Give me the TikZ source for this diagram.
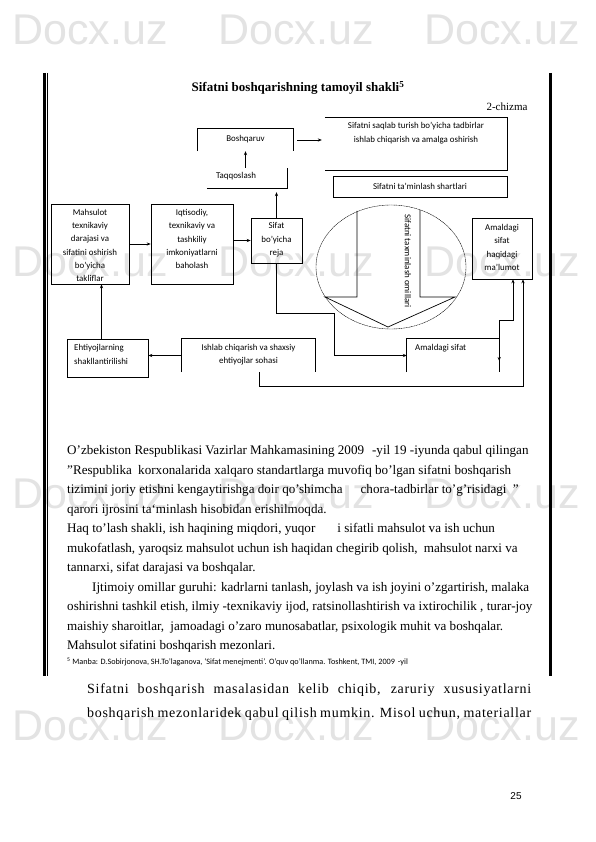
\documentclass[tikz,border=0pt]{standalone}
\usepackage{fontspec}
\setmainfont{Liberation Serif}
\newfontfamily\diafont{Carlito}
\newfontfamily\numfont{Liberation Sans}
\usetikzlibrary{arrows.meta,calc,shapes.geometric}

\begin{document}
\begin{tikzpicture}[x=1pt,y=-1pt,>={Stealth[length=4pt,width=3.2pt]},
  frame/.style={draw,line width=0.6pt,inner sep=0pt},
  bare/.style={inner sep=0pt},
  lbl/.style={font=\diafont\fontsize{8.9}{13.3}\selectfont,align=center,inner sep=0pt},
  wire/.style={line width=0.7pt},
  body/.style={font=\fontsize{13.1}{19.5}\selectfont,align=left,inner sep=0pt,anchor=north west},
  wmark/.style={font=\numfont\fontsize{43}{43}\selectfont,text=black!11,inner sep=0pt,anchor=west}]

  \useasboundingbox (0,0) rectangle (595,842);
  \fill[white] (0,0) rectangle (595,842);

  % watermark
  \foreach \r in {0,...,3}
    \foreach \c in {0,1,2}
      \node[wmark] (wm\r\c) at (12+206*\c,30+232*\r) {Docx.uz};

  % page frame
  \draw[line width=2.2pt] (44.5,73) -- (44.5,676);
  \draw[line width=1.2pt] (47.6,73) -- (47.6,676);
  \draw[line width=3pt] (550.5,73) -- (550.5,676);

  \node[font=\bfseries\fontsize{13}{14}\selectfont] (title) at (298,88)
    {Sifatni boshqarishning tamoyil shakli\textsuperscript{5}};
  \node[anchor=east,font=\fontsize{11}{12}\selectfont] (chizma) at (531,107) {2-chizma};

  % boxes
  \node[bare,minimum width=95pt,minimum height=22pt] (bosh) at (245.5,140) {};
  \node[bare,minimum width=182pt,minimum height=52pt] (saqlab) at (416,144) {};
  \node[bare,minimum width=80pt,minimum height=20pt] (taq) at (247,178) {};
  \node[frame,minimum width=174pt,minimum height=21pt] (shart) at (420,186.5) {};
  \node[frame,minimum width=78pt,minimum height=80pt] (mahs) at (90,244) {};
  \node[frame,minimum width=82pt,minimum height=80pt] (iqt) at (192,244) {};
  \node[frame,minimum width=51pt,minimum height=45pt] (sifat) at (276.5,240.5) {};
  \node[frame,minimum width=60pt,minimum height=61pt] (info) at (502,248.5) {};
  \node[frame,minimum width=81pt,minimum height=38pt] (ehti) at (107.5,358) {};
  \node[bare,minimum width=133pt,minimum height=33pt] (ishlab) at (248.5,355.5) {};
  \node[bare,minimum width=92pt,minimum height=33pt] (amal) at (453,355.5) {};

  \draw[wire] (bosh.south west) -- (bosh.north west) -- (bosh.north east) -- (bosh.south east);
  \draw[wire] (saqlab.north west) -- (saqlab.north east) -- (saqlab.south east) -- (saqlab.south west);
  \draw[wire] (taq.south west) -- (taq.south east) -- (taq.north east);
  \draw[wire] (ishlab.south west) -- (ishlab.north west) -- (ishlab.north east) -- (ishlab.south east);
  \draw[wire] (amal.south west) -- (amal.north west) -- (amal.north east) -- (amal.south east);

  % box texts
  \node[lbl] (boshT) at (245.5,139) {Boshqaruv};
  \node[lbl] (saqlabT) at (416,133) {Sifatni saqlab turish bo’yicha tadbirlar\\ishlab chiqarish va amalga oshirish};
  \node[lbl] (taqT) at (236,176) {Taqqoslash};
  \node[lbl] (shartT) at (420,186) {Sifatni ta’minlash shartlari};
  \node[lbl] (mahsT) at (90,245.5) {Mahsulot\\texnikaviy\\darajasi va\\sifatini oshirish\\bo’yicha\\takliflar};
  \node[lbl] (iqtT) at (192,239) {Iqtisodiy,\\texnikaviy va\\tashkiliy\\imkoniyatlarni\\baholash};
  \node[lbl] (sifatT) at (276.5,240) {Sifat\\bo’yicha\\reja};
  \node[lbl] (infoT) at (502,247.5) {Amaldagi\\sifat\\haqidagi\\ma’lumot};
  \node[lbl,align=left,anchor=west] (ehtiT) at (74,354.5) {Ehtiyojlarning\\shakllantirilishi};
  \node[lbl] (ishlabT) at (248.5,354.5) {Ishlab chiqarish va shaxsiy\\ehtiyojlar sohasi};
  \node[lbl,anchor=west] (amalT) at (415,348) {Amaldagi sifat};

  % factors
  \node[draw,ellipse,minimum width=150pt,minimum height=124pt,inner sep=0pt,
    line width=0.4pt,dash pattern=on 1.2pt off 0.5pt] (omil) at (391,267) {};
  \draw[wire] (357,211) -- (357,297) -- (325,297) -- (388,327) -- (455,297) -- (420,297) -- (420,210);
  \node[lbl,rotate=-90] (omilT) at (408,261) {Sifatni taxminlash omillari};

  % connectors
  \coordinate (k1) at (334,313);
  \coordinate (k2) at (513,320);
  \coordinate (k3) at (523,386);
  \draw[wire,->] ([xshift=4pt]bosh.east) -- ([xshift=-3pt]bosh.east -| saqlab.west);
  \draw[wire,->] (bosh.south |- taq.north) -- (bosh.south);
  \draw[wire,->] (sifat.north) -- ([yshift=-4pt]sifat.north |- taq.south);
  \draw[wire,->] (mahs.east) -- (iqt.west);
  \draw[wire,->] (iqt.east |- sifat.west) -- (sifat.west);
  \draw[wire,->] (sifat.south) |- (k1) |- (amal.west);
  \draw[wire,->] (ishlab.west) -- (ishlab.west -| ehti.east);
  \draw[wire,->] ([xshift=-6pt]ehti.north) -- ([xshift=-6pt]ehti.north |- mahs.south);
  \draw[wire,->] ([xshift=10.5pt]ishlab.south) |- (k3) -- (k3 |- info.south);
  \draw[wire,<->] ([yshift=-5.5pt]amal.east) |- (k2) -- (k2 |- info.south);

  % text below the scheme
  \node[body] (matn) at (67,445.5) {O’zbekiston Respublikasi Vazirlar Mahkamasining 2009\hspace{8pt}-yil 19 -iyunda qabul qilingan\\
    ”Respublika\hspace{3pt} korxonalarida xalqaro standartlarga muvofiq bo’lgan sifatni boshqarish\\
    tizimini joriy etishni kengaytirishga doir qo’shimcha\hspace{18pt}chora-tadbirlar to’g’risidagi\hspace{3pt} ”\\
    qarori ijrosini ta‘minlash hisobidan erishilmoqda.\\
    Haq to’lash shakli, ish haqining miqdori, yuqor\hspace{22pt}i sifatli mahsulot va ish uchun\\
    mukofatlash, yaroqsiz mahsulot uchun ish haqidan chegirib qolish,\hspace{3pt} mahsulot narxi va\\
    tannarxi, sifat darajasi va boshqalar.\\
    \hspace*{25pt}Ijtimoiy omillar guruhi: kadrlarni tanlash, joylash va ish joyini o’zgartirish, malaka\\
    oshirishni tashkil etish, ilmiy -texnikaviy ijod, ratsinollashtirish va ixtirochilik , turar-joy\\
    maishiy sharoitlar,\hspace{3pt} jamoadagi o’zaro munosabatlar, psixologik muhit va boshqalar.\\
    Mahsulot sifatini boshqarish mezonlari.};

  \node[anchor=base west,inner sep=0pt,font=\diafont\fontsize{8.2}{9}\selectfont] (izoh) at (67,664)
    {\textsuperscript{5} Manba: D.Sobirjonova, SH.To’laganova, ‘Sifat menejmenti’. O’quv qo’llanma. Toshkent, TMI, 2009\hspace{3pt}-yil};

  \node[body,font=\fontsize{14}{24}\selectfont\addfontfeatures{LetterSpace=5}] (quyi) at (87,683)
    {\makebox[444pt][s]{Sifatni boshqarish masalasidan kelib chiqib, zaruriy xususiyatlarni}\\
     \makebox[444pt][s]{boshqarish mezonlaridek qabul qilish mumkin. Misol uchun, materiallar}};

  \node[font=\numfont\fontsize{10}{12}\selectfont] (bet) at (516,796) {25};
\end{tikzpicture}
\end{document}
